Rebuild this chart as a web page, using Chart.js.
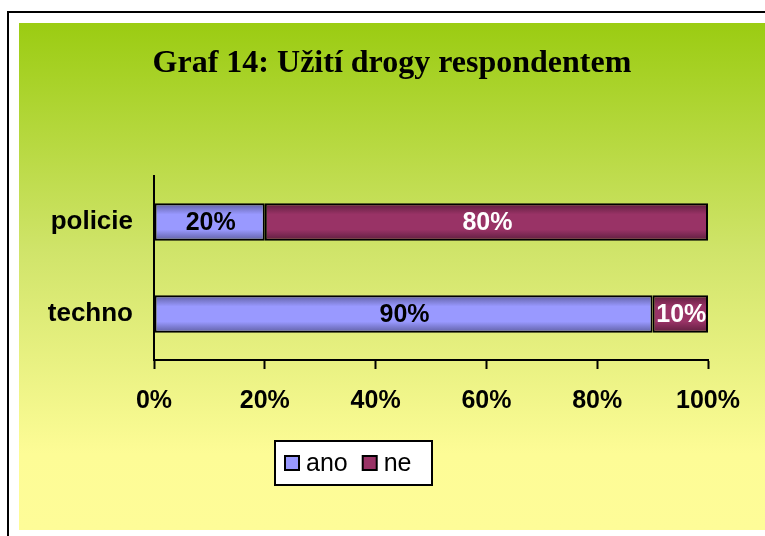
<!DOCTYPE html>
<html>
<head>
<meta charset="utf-8">
<script src="https://cdn.jsdelivr.net/npm/chart.js@4/dist/chart.umd.min.js"></script>
<style>
html,body{margin:0;padding:0;background:#fff;}
#wrap{width:765px;height:536px;position:relative;}
</style>
</head>
<body>
<div id="wrap"><canvas id="c" width="765" height="536"></canvas></div>
<script>
const categories = ["policie", "techno"];
const seriesNames = ["ano", "ne"];
const anoValues = [20, 90];
const neValues = [80, 10];
const xTicks = [0, 20, 40, 60, 80, 100];
const titleText = "Graf 14: Užití drogy respondentem";

const baseColors = {
  ano: {mid: "#9999FF", edge: "#5C5C9E"},
  ne: {mid: "#993366", edge: "#5A1D3C"}
};

function barGradient(ctx, key) {
  const chart = ctx.chart;
  const yScale = chart.scales.y;
  if (!yScale || ctx.dataIndex === undefined) return baseColors[key].mid;
  const yc = yScale.getPixelForValue(ctx.dataIndex);
  if (!isFinite(yc)) return baseColors[key].mid;
  const half = 19;
  const g = chart.ctx.createLinearGradient(0, yc - half, 0, yc + half);
  g.addColorStop(0, baseColors[key].edge);
  g.addColorStop(0.3, baseColors[key].mid);
  g.addColorStop(0.7, baseColors[key].mid);
  g.addColorStop(1, baseColors[key].edge);
  return g;
}

const bgPlugin = {
  id: "bg",
  beforeDraw(chart) {
    const c = chart.ctx;
    c.save();
    c.fillStyle = "#fff";
    c.fillRect(0, 0, chart.width, chart.height);
    c.strokeStyle = "#000";
    c.lineWidth = 2;
    c.strokeRect(8, 12, chart.width + 20, chart.height + 20);
    const g = c.createLinearGradient(0, 23, 0, 530);
    g.addColorStop(0, "#9BCC12");
    g.addColorStop(0.45, "#D0E46A");
    g.addColorStop(0.85, "#FDFC96");
    g.addColorStop(1, "#FEFC98");
    c.fillStyle = g;
    c.fillRect(19, 23, chart.width, 530 - 23);
    // title
    c.fillStyle = "#000";
    c.font = "bold 32px 'Liberation Serif', 'Times New Roman', serif";
    c.textAlign = "center";
    c.textBaseline = "alphabetic";
    c.fillText(titleText, 392, 72);
    c.restore();
  }
};

const labelPlugin = {
  id: "dlabels",
  afterDatasetsDraw(chart) {
    const c = chart.ctx;
    c.save();
    c.font = "bold 25px 'Liberation Sans', Arial, sans-serif";
    c.textAlign = "center";
    c.textBaseline = "middle";
    chart.data.datasets.forEach((ds, di) => {
      const meta = chart.getDatasetMeta(di);
      meta.data.forEach((el, i) => {
        const x = (el.x + el.base) / 2;
        c.fillStyle = di === 0 ? "#000" : "#fff";
        c.fillText(ds.data[i] + "%", x + 1, el.y + 1);
      });
    });
    c.restore();
  }
};

const legendPlugin = {
  id: "mylegend",
  afterDraw(chart) {
    const c = chart.ctx;
    c.save();
    const bx = 275, by = 441, bw = 157, bh = 44;
    c.fillStyle = "#fff";
    c.fillRect(bx, by, bw, bh);
    c.strokeStyle = "#000";
    c.lineWidth = 2;
    c.strokeRect(bx, by, bw, bh);
    c.font = "25px 'Liberation Sans', Arial, sans-serif";
    c.textBaseline = "middle";
    c.textAlign = "left";
    let x = bx + 10;
    const yc = by + bh / 2;
    chart.data.datasets.forEach((ds) => {
      c.fillStyle = baseColors[ds.label].mid;
      c.fillRect(x, yc - 7, 14, 14);
      c.lineWidth = 2;
      c.strokeRect(x, yc - 7, 14, 14);
      c.fillStyle = "#000";
      c.fillText(ds.label, x + 21, yc + 1);
      x += 21 + c.measureText(ds.label).width + 15;
    });
    c.restore();
  }
};

new Chart(document.getElementById("c"), {
  type: "bar",
  data: {
    labels: categories,
    datasets: [
      {label: seriesNames[0], data: anoValues, backgroundColor: (ctx) => barGradient(ctx, "ano"), borderColor: "#000", borderWidth: 2, borderSkipped: false},
      {label: seriesNames[1], data: neValues, backgroundColor: (ctx) => barGradient(ctx, "ne"), borderColor: "#000", borderWidth: 2, borderSkipped: false}
    ]
  },
  options: {
    indexAxis: "y",
    responsive: false,
    animation: false,
    events: [],
    layout: {padding: {left: 19, right: 57, top: 176, bottom: 0}},
    categoryPercentage: 1,
    barPercentage: 0.41,
    plugins: {
      legend: {display: false},
      tooltip: {enabled: false},
      title: {display: false}
    },
    scales: {
      x: {
        stacked: true,
        min: 0, max: 100,
        afterBuildTicks(scale) { scale.ticks = xTicks.map(v => ({value: v})); },
        afterFit(scale) { scale.height = 176; },
        border: {display: true, color: "#000", width: 2},
        grid: {drawOnChartArea: false, drawTicks: true, tickLength: 9, tickWidth: 2, tickColor: "#000"},
        ticks: {
          color: "#000",
          padding: 17,
          font: {family: "'Liberation Sans', Arial, sans-serif", size: 25, weight: "bold"},
          callback: (v) => v + "%",
          maxRotation: 0
        }
      },
      y: {
        stacked: true,
        afterFit(scale) { scale.width = 135; },
        border: {display: true, color: "#000", width: 2},
        grid: {display: false, drawTicks: false},
        ticks: {
          color: "#000",
          padding: 21,
          font: {family: "'Liberation Sans', Arial, sans-serif", size: 26, weight: "bold"}
        }
      }
    }
  },
  plugins: [bgPlugin, labelPlugin, legendPlugin]
});
</script>
</body>
</html>
